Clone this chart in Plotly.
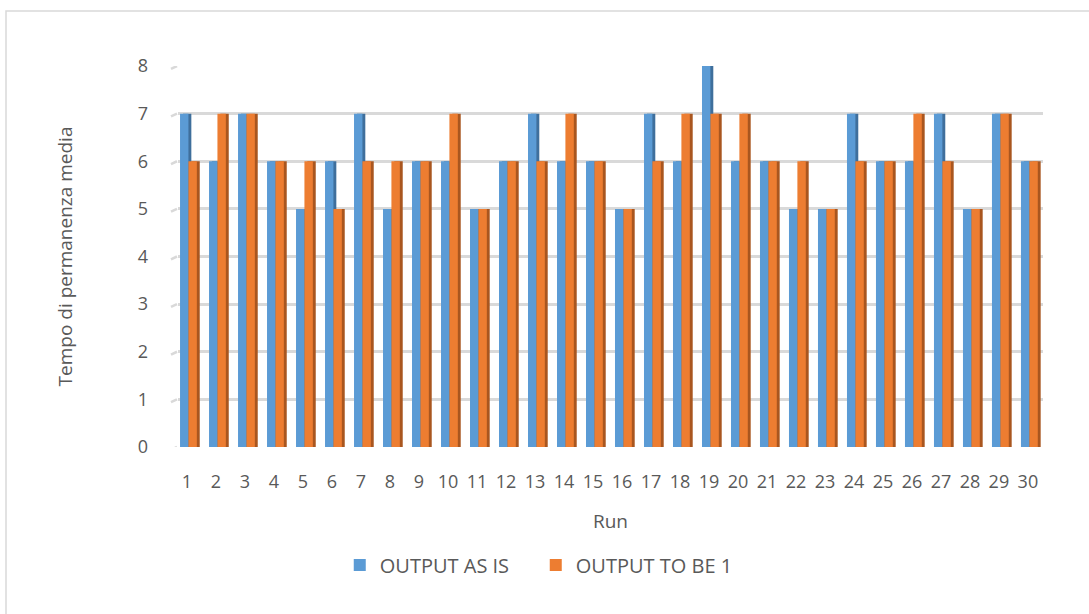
import plotly.graph_objects as go

# Data
runs = list(range(1, 31))
output_as_is = [7, 6, 7, 6, 5, 6, 7, 5, 6, 6, 5, 6, 7, 6, 6, 5, 7, 6, 8, 6,
                6, 5, 5, 7, 6, 6, 7, 5, 7, 6]
output_to_be_1 = [6, 7, 7, 6, 6, 5, 6, 6, 6, 7, 5, 6, 6, 7, 6, 5, 6, 7, 7, 7,
                  6, 6, 5, 6, 6, 7, 6, 5, 7, 6]
y_ticks = list(range(0, 9))

BLUE, BLUE_DARK = "#5B9BD5", "#3F6F9C"
ORANGE, ORANGE_DARK = "#ED7D31", "#A9561F"
GRID = "#D9D9D9"
TEXT = "#595959"
FONT = "Open Sans"

W, H = 1089, 614
L, R, T, B = 178, 46, 66, 167

FRONT_W = 0.29   # width of a bar's front face (category units)
SIDE_W = 0.10    # visible depth of the shaded side face

fig = go.Figure()

# Shaded side faces sit behind the front faces, shifted right
fig.add_trace(go.Bar(x=runs, y=output_as_is, offset=-0.24 + SIDE_W, width=FRONT_W,
                     marker=dict(color=BLUE_DARK, line=dict(width=0)),
                     showlegend=False, hoverinfo="skip"))
fig.add_trace(go.Bar(x=runs, y=output_as_is, offset=-0.24, width=FRONT_W,
                     name="OUTPUT AS IS",
                     marker=dict(color=BLUE, line=dict(width=0))))
fig.add_trace(go.Bar(x=runs, y=output_to_be_1, offset=0.05 + SIDE_W, width=FRONT_W,
                     marker=dict(color=ORANGE_DARK, line=dict(width=0)),
                     showlegend=False, hoverinfo="skip"))
fig.add_trace(go.Bar(x=runs, y=output_to_be_1, offset=0.05, width=FRONT_W,
                     name="OUTPUT TO BE 1",
                     marker=dict(color=ORANGE, line=dict(width=0))))

shapes = []
# Small slanted stubs on the left end of each gridline (3D floor edge)
for v in y_ticks:
    shapes.append(dict(type="line", xref="paper", yref="y", xsizemode="pixel",
                       xanchor=0, x0=-7, x1=-1, y0=v - 0.06, y1=v,
                       line=dict(color=GRID, width=2.5), layer="below"))

# Chart-area border (top and left edges visible within the page)
pw, ph = W - L - R, H - T - B
shapes.append(dict(type="rect", xref="paper", yref="paper",
                   x0=(6 - L) / pw, x1=(W + 5 - L) / pw,
                   y0=(T + ph - (H + 5)) / ph, y1=(T + ph - 11) / ph,
                   line=dict(color=GRID, width=1.5), layer="below"))

fig.update_layout(
    width=W, height=H,
    margin=dict(l=L, r=R, t=T, b=B),
    paper_bgcolor="white", plot_bgcolor="white",
    barmode="overlay",
    font=dict(family=FONT, color=TEXT, size=17),
    shapes=shapes,
    legend=dict(orientation="h", x=0.187, xanchor="left", y=-0.31, yanchor="middle",
                font=dict(size=20, color=TEXT), traceorder="normal",
                entrywidth=151, itemwidth=30),
    xaxis=dict(range=[0.69, 30.52], tickmode="array", tickvals=runs,
               ticktext=[str(r) for r in runs], showgrid=False, zeroline=False,
               showline=False, ticks="", ticklabelstandoff=22,
               tickfont=dict(size=18, color=TEXT),
               title=dict(text="Run", font=dict(size=19, color=TEXT), standoff=22)),
    yaxis=dict(range=[0, 8], tickmode="array", tickvals=y_ticks,
               showgrid=True, gridcolor=GRID, gridwidth=2.5, zeroline=False,
               showline=False, ticks="", ticklabelstandoff=29,
               tickfont=dict(size=18, color=TEXT),
               title=dict(text="Tempo di permanenza media",
                          font=dict(size=19, color=TEXT), standoff=60)),
)

fig.write_html("out.html")
